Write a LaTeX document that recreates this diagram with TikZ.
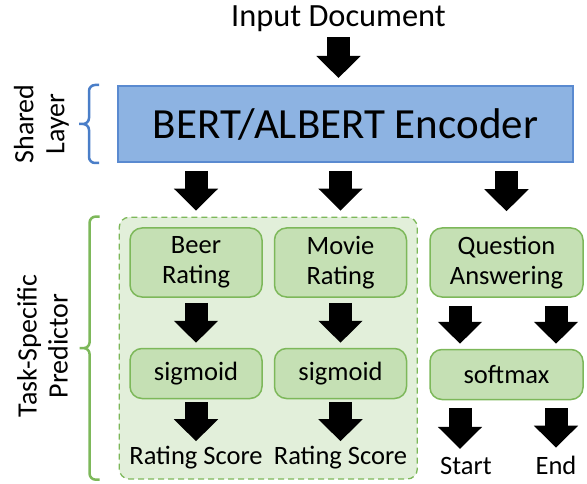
\documentclass[tikz,border=0pt]{standalone}
\usepackage{fontspec}
\setmainfont{Carlito}
\usetikzlibrary{arrows.meta, positioning, fit, backgrounds, calc}
\definecolor{encfill}{HTML}{8DB3E2}
\definecolor{encdraw}{HTML}{5A8AD0}
\definecolor{taskfill}{HTML}{C5E0B4}
\definecolor{taskdraw}{HTML}{7DB85A}
\definecolor{groupfill}{HTML}{E2EFDA}
\definecolor{sharedbrace}{HTML}{4A7EC8}
\tikzset{
    x=1pt,
    y=1pt,
    font=\fontsize{26.5}{30.5}\selectfont,
    mt_encoder/.style={
        rectangle,
        draw=encdraw,
        fill=encfill,
        line width=2pt,
        minimum width=455pt,
        minimum height=76pt,
        font=\fontsize{43}{50}\selectfont
    },
    mt_task/.style={
        rectangle,
        rounded corners=12pt,
        draw=taskdraw,
        fill=taskfill,
        line width=1.5pt,
        minimum width=132pt,
        minimum height=69pt,
        inner sep=0pt,
        align=center
    },
    mt_act/.style={
        mt_task,
        minimum height=50pt
    },
    mt_group/.style={
        rectangle,
        rounded corners=10pt,
        draw=taskdraw,
        fill=groupfill,
        line width=1.3pt,
        dash pattern=on 6pt off 4pt,
        inner xsep=10pt,
        inner ysep=10pt
    },
    mt_label/.style={
        inner sep=0pt
    },
    mt_side/.style={
        rotate=90,
        inner sep=0pt,
        align=center,
        font=\fontsize{28}{31}\selectfont
    },
    mt_arrow/.style={
        line width=23pt,
        -{Triangle[length=22pt, width=43pt]}
    },
    mt_brace/.style={
        line width=2.5pt,
        rounded corners=6pt
    }
}
% brace: colour, top end, bottom end
\newcommand{\mtbrace}[3]{
    \draw[mt_brace, draw=#1] (#2) -- ++(-10,0) |- ($(#2)!0.5!(#3)+(-20,0)$)
        (#3) -- ++(-10,0) |- ($(#2)!0.5!(#3)+(-20,0)$);
}

\begin{document}
\begin{tikzpicture}
\useasboundingbox (0,0) rectangle (587,-484);

% --- Shared encoder ---
\node[mt_label, anchor=base, font=\fontsize{32.4}{38}\selectfont] (doc) at (338.5,-27) {Input Document};
\node[mt_encoder] (bert) at (345.5,-124) {BERT/ALBERT Encoder};

% --- Task heads ---
\node[mt_task] (beer) at (196,-262.5) {Beer\\Rating};
\node[mt_task, right=11pt of beer] (movie) {Movie\\Rating};
\node[mt_task, right=22pt of movie, minimum width=153pt] (qa) {Question\\Answering};

\node[mt_act, below=50pt of beer] (sig1) {sigmoid};
\node[mt_act, below=50pt of movie] (sig2) {sigmoid};
\node[mt_act, below=51pt of qa, minimum width=153pt] (softmax) {softmax};

\node[mt_label, anchor=base] (score1) at ($(sig1.south)+(0,-65)$) {Rating Score};
\node[mt_label, anchor=base] (score2) at ($(sig2.south)+(0,-65)$) {Rating Score};
\node[mt_label, anchor=base] (start) at ($(softmax.south)+(-40.5,-74)$) {Start};
\node[mt_label, anchor=base] (end) at ($(softmax.south)+(49.5,-74)$) {End};

\begin{scope}[on background layer]
\node[mt_group, fit=(beer)(movie)(score2)] (group) {};
\end{scope}

% --- Braces ---
\coordinate (sharedtop) at ([xshift=-18pt]bert.north west);
\coordinate (sharedbot) at ([xshift=-18pt]bert.south west);
\coordinate (tasktop) at ([xshift=-19pt]group.north west);
\coordinate (taskbot) at ([xshift=-19pt]group.south west);
\mtbrace{sharedbrace}{sharedtop}{sharedbot}
\mtbrace{taskdraw}{tasktop}{taskbot}
\node[mt_side] (sharedlbl) at (41.5,-124) {Shared\\Layer};
\node[mt_side] (tasklbl) at (42.5,-346) {Task-Specific\\Predictor};

% --- Arrows ---
\draw[mt_arrow, shorten <=5pt, shorten >=7pt] (doc.south) -- (doc.south |- bert.north);
\draw[mt_arrow, shorten <=8pt, shorten >=6pt] (bert.south -| beer) -- (group.north -| beer);
\draw[mt_arrow, shorten <=8pt, shorten >=6pt] (bert.south -| movie) -- (group.north -| movie);
\draw[mt_arrow, shorten <=8pt, shorten >=16pt] (bert.south -| qa) -- (qa.north);

\draw[mt_arrow, shorten <=5pt, shorten >=5pt] (beer) -- (sig1);
\draw[mt_arrow, shorten <=5pt, shorten >=5pt] (movie) -- (sig2);
\draw[mt_arrow, shorten <=3pt, shorten >=4.5pt] (sig1) -- (score1);
\draw[mt_arrow, shorten <=3pt, shorten >=4.5pt] (sig2) -- (score2);

\draw[mt_arrow, shorten <=8pt, shorten >=5pt] ([xshift=-46.5pt]qa.south) -- ([xshift=-46.5pt]softmax.north);
\draw[mt_arrow, shorten <=8pt, shorten >=5pt] ([xshift=49.5pt]qa.south) -- ([xshift=49.5pt]softmax.north);
\draw[mt_arrow, shorten <=8pt, shorten >=8pt] ([xshift=-46.5pt]softmax.south) -- ([xshift=-46.5pt]softmax.south |- start.north);
\draw[mt_arrow, shorten <=8pt, shorten >=8pt] ([xshift=49.5pt]softmax.south) -- ([xshift=49.5pt]softmax.south |- end.north);

\end{tikzpicture}
\end{document}
